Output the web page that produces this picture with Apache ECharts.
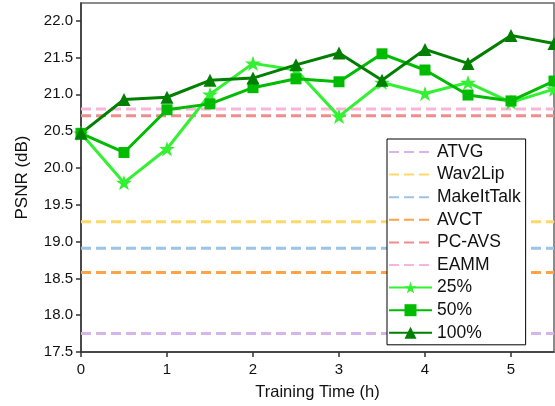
<!DOCTYPE html>
<html>
<head>
<meta charset="utf-8">
<script src="https://cdn.jsdelivr.net/npm/echarts@6/dist/echarts.min.js"></script>
<style>html,body{margin:0;padding:0;background:#fff;}#chart{width:555px;height:406px;}</style>
</head>
<body>
<div id="chart"></div>
<script>
var times = [0, 0.5, 1, 1.5, 2, 2.5, 3, 3.5, 4, 4.5, 5, 5.5];
var p25 = [20.47, 19.80, 20.26, 21.00, 21.42, 21.33, 20.70, 21.16, 21.01, 21.16, 20.89, 21.07];
var p50 = [20.47, 20.21, 20.79, 20.87, 21.09, 21.21, 21.17, 21.55, 21.33, 20.99, 20.91, 21.18];
var p100 = [20.47, 20.93, 20.96, 21.19, 21.22, 21.40, 21.56, 21.19, 21.61, 21.42, 21.80, 21.69];
var baselineNames = ['ATVG', 'Wav2Lip', 'MakeItTalk', 'AVCT', 'PC-AVS', 'EAMM'];
var baselineValues = [17.75, 19.27, 18.91, 18.58, 20.71, 20.80];
var baselineColors = ['#D6B4EC', '#FFD86A', '#9DC3E6', '#FFA347', '#F08C8C', '#F9B4DA'];
var oursNames = ['25%', '50%', '100%'];
var xTicks = [0, 1, 2, 3, 4, 5];
var yTicks = [17.5, 18.0, 18.5, 19.0, 19.5, 20.0, 20.5, 21.0, 21.5, 22.0];
var xRange = [0, 5.5];
var yRange = [17.5, 22.24];

var starPath = 'path://M50,0 L61.2,34.5 L97.6,34.5 L68.2,55.9 L79.4,90.5 L50,69.1 L20.6,90.5 L31.8,55.9 L2.4,34.5 L38.8,34.5 Z';

var series = [];
baselineNames.forEach(function (n, i) {
  series.push({
    name: n, type: 'line', showSymbol: false, symbol: 'none',
    data: [[xRange[0], baselineValues[i]], [xRange[1], baselineValues[i]]],
    lineStyle: { color: baselineColors[i], width: 3, type: [10, 5] },
    itemStyle: { color: baselineColors[i] },
    silent: true, animation: false
  });
});
function mk(name, vals, color, symbol, size) {
  return {
    name: name, type: 'line', symbol: symbol, symbolSize: size, symbolKeepAspect: true,
    data: times.map(function (t, i) { return [t, vals[i]]; }),
    lineStyle: { color: color, width: 3 },
    itemStyle: { color: color },
    animation: false
  };
}
series.push(mk(oursNames[0], p25, '#33F033', starPath, 16));
series.push(mk(oursNames[1], p50, '#00BB00', 'rect', 11));
series.push(mk(oursNames[2], p100, '#007F00', 'triangle', 13));

var legendData = baselineNames.map(function (n) {
  return { name: n, itemStyle: { opacity: 0 } };
}).concat(oursNames.map(function (n) { return { name: n }; }));

var chart = echarts.init(document.getElementById('chart'), null, { renderer: 'canvas' });
chart.setOption({
  backgroundColor: '#fff',
  animation: false,
  grid: { left: 81, top: 3, right: 1, bottom: 51, show: true, borderColor: '#666', borderWidth: 1.5, containLabel: false },
  legend: {
    orient: 'vertical', left: 387, top: 139,
    padding: [4, 5, 3, 1],
    itemWidth: 43, itemHeight: 15, itemGap: 4.6,
    borderColor: '#000', borderWidth: 1, backgroundColor: '#fff',
    textStyle: { fontFamily: 'Liberation Sans', fontSize: 17.5, color: '#111' },
    data: legendData
  },
  xAxis: {
    type: 'value', min: xRange[0], max: xRange[1], interval: 1,
    name: 'Training Time (h)', nameLocation: 'middle', nameGap: 32,
    nameTextStyle: { fontFamily: 'Liberation Sans', fontSize: 16.5, color: '#111' },
    axisLine: { show: true, lineStyle: { color: '#333', width: 1.5 } },
    axisTick: { show: true, length: 5, customValues: xTicks, lineStyle: { color: '#333', width: 1.5 } },
    axisLabel: { customValues: xTicks, margin: 10, fontFamily: 'Liberation Sans', fontSize: 15, color: '#111' },
    splitLine: { show: false }
  },
  yAxis: {
    type: 'value', min: yRange[0], max: yRange[1], interval: 0.5,
    name: 'PSNR (dB)', nameLocation: 'middle', nameGap: 50,
    nameTextStyle: { fontFamily: 'Liberation Sans', fontSize: 17, color: '#111' },
    axisLine: { show: true, lineStyle: { color: '#333', width: 1.5 } },
    axisTick: { show: true, length: 5, customValues: yTicks, lineStyle: { color: '#333', width: 1.5 } },
    axisLabel: { customValues: yTicks, margin: 8, fontFamily: 'Liberation Sans', fontSize: 15, color: '#111',
      formatter: function (v) { return Number(v).toFixed(1); } },
    splitLine: { show: false }
  },
  series: series
});
</script>
</body>
</html>
